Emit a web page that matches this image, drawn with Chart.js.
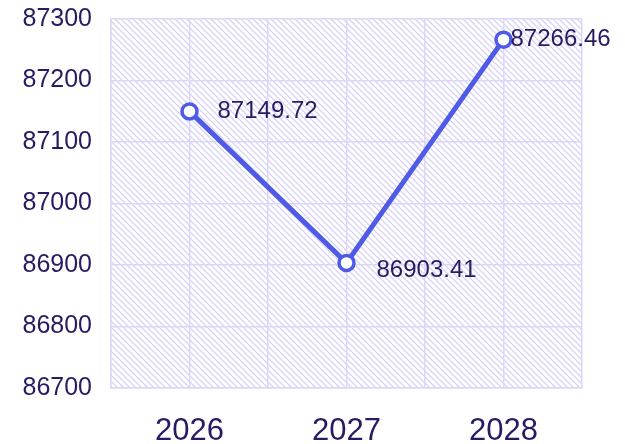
<!DOCTYPE html>
<html>
<head>
<meta charset="utf-8">
<script src="https://cdn.jsdelivr.net/npm/chart.js@4"></script>
<style>
  body { margin: 0; background: #fff; }
</style>
</head>
<body>
<canvas id="chartLine" width="625" height="444"></canvas>
<script>
var ctx = document.getElementById('chartLine').getContext('2d');

const years = ['2026', '2027', '2028'];
const values = [87149.72, 86903.41, 87266.46];
const yTicks = [86700, 86800, 86900, 87000, 87100, 87200, 87300];
// label offsets from each point (dx, dy)
const labelShift = [[28, 0], [30, 7], [7, 0]];

const textColor = '#2b1a63';
const gridColor = '#dcd7f7';
const fontFam = '"Liberation Sans", Arial, sans-serif';

const makeHatch = () => {
    const c = document.createElement('canvas');
    c.width = 6; c.height = 6;
    const g = c.getContext('2d');
    g.fillStyle = '#ffffff';
    g.fillRect(0, 0, 6, 6);
    g.strokeStyle = '#d8d3f6';
    g.lineWidth = 1.3;
    g.beginPath();
    g.moveTo(-1, -1); g.lineTo(7, 7);
    g.moveTo(-7, -1); g.lineTo(1, 7);
    g.moveTo(5, -1); g.lineTo(13, 7);
    g.stroke();
    return ctx.createPattern(c, 'repeat');
};

const hatchBg = {
    id: 'hatchBg',
    beforeDraw(chart) {
        const a = chart.chartArea;
        const c = chart.ctx;
        c.save();
        c.fillStyle = makeHatch();
        c.fillRect(a.left, a.top, a.right - a.left, a.bottom - a.top);
        c.restore();
    }
};

const pointLabels = {
    id: 'pointLabels',
    afterDatasetsDraw(chart) {
        const c = chart.ctx;
        const meta = chart.getDatasetMeta(0);
        c.save();
        c.font = '24px ' + fontFam;
        c.fillStyle = textColor;
        c.textAlign = 'left';
        c.textBaseline = 'middle';
        meta.data.forEach((p, i) => {
            c.fillText(values[i].toFixed(2), p.x + labelShift[i][0], p.y + labelShift[i][1]);
        });
        c.restore();
    }
};

var chart = new Chart(ctx, {
    type: 'line',
    data: {
        datasets: [{
            data: values.map((v, i) => ({ x: i, y: v })),
            borderColor: '#4f5ae6',
            borderWidth: 5,
            pointRadius: 7.5,
            pointBorderWidth: 3.5,
            pointBackgroundColor: '#ffffff',
            pointBorderColor: '#4f5ae6',
            tension: 0
        }]
    },
    options: {
        responsive: false,
        animation: false,
        layout: { padding: { top: 0, right: 43, left: 0, bottom: 0 } },
        plugins: { legend: { display: false }, tooltip: { enabled: false } },
        scales: {
            x: {
                type: 'linear',
                min: -0.5,
                max: 2.5,
                afterBuildTicks: (axis) => {
                    axis.ticks = [-0.5, 0, 0.5, 1, 1.5, 2, 2.5].map(v => ({ value: v }));
                },
                afterFit: (axis) => { axis.height = 56; },
                ticks: {
                    autoSkip: false,
                    color: textColor,
                    font: { size: 31, family: fontFam },
                    padding: 25,
                    maxRotation: 0,
                    callback: (v) => Number.isInteger(v) ? years[v] : ''
                },
                grid: { color: gridColor, lineWidth: 1.5, drawTicks: false },
                border: { color: gridColor, width: 1.5 }
            },
            y: {
                min: yTicks[0],
                max: yTicks[yTicks.length - 1],
                afterBuildTicks: (axis) => {
                    axis.ticks = yTicks.map(v => ({ value: v }));
                },
                afterFit: (axis) => {
                    axis.width = 111;
                    axis.paddingTop = 19;
                    axis.paddingBottom = 0;
                },
                ticks: {
                    color: textColor,
                    font: { size: 25, family: fontFam },
                    padding: 19,
                    callback: (v) => String(v)
                },
                grid: { color: gridColor, lineWidth: 1.5, drawTicks: false },
                border: { color: gridColor, width: 1.5 }
            }
        }
    },
    plugins: [hatchBg, pointLabels]
});
</script>
</body>
</html>
